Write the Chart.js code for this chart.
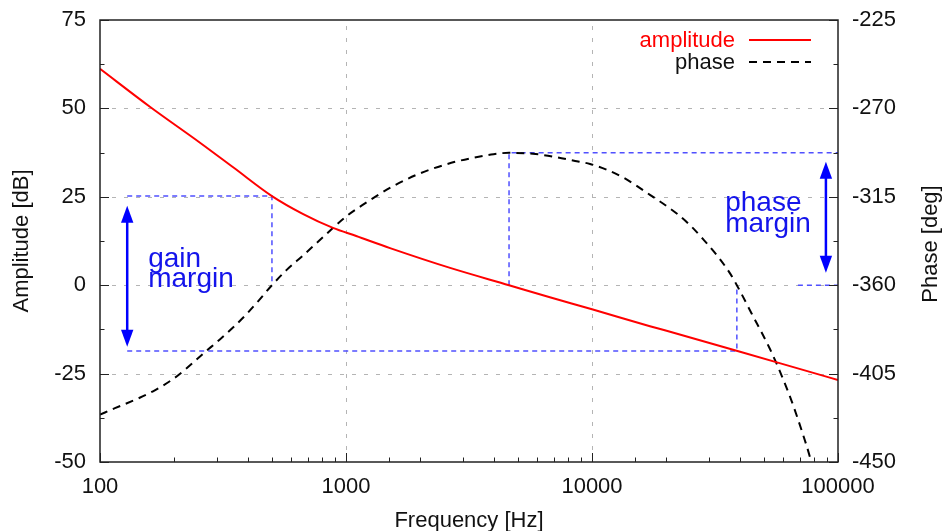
<!DOCTYPE html>
<html>
<head>
<meta charset="utf-8">
<script src="https://cdn.jsdelivr.net/npm/chart.js@4/dist/chart.umd.min.js"></script>
<style>
  html, body { margin: 0; padding: 0; background: #fff; }
  canvas { display: block; }
</style>
</head>
<body>
<canvas id="bode" width="944" height="531"></canvas>
<script>
// amplitude curve (left axis, dB)
const ampFreq = [100, 160, 255, 350, 500, 670, 885, 1100, 1510, 2650, 4600, 6740, 10000, 17200, 20100, 40000, 79400, 100000];
const ampDb = [61.2, 50.4, 40.3, 33.2, 25.2, 20.1, 16.2, 13.9, 10.5, 4.9, 0, -3.4, -6.8, -11.6, -12.9, -18.8, -24.8, -26.8];

// phase curve (right axis, deg)
const phaseFreq = [100, 115, 145, 167, 199, 225, 263, 307, 349, 395, 439, 500, 574, 670, 783, 1006, 1214, 1370, 1553, 1936, 2260, 2775, 3240, 3980, 4600, 5750, 6940, 8370, 9820, 11470, 13400, 17200, 22100, 25100, 28400, 32200, 36400, 38800, 44600, 52900, 59000, 64800, 71200, 76900, 78500];
const phaseDeg = [-425.9, -422.6, -417.3, -413.5, -407.6, -402.3, -394.8, -387.6, -381.3, -374.6, -368.2, -360, -352.2, -344.8, -337, -324.8, -317.8, -313.6, -309.6, -303.8, -300.6, -297.2, -295.3, -293.3, -292.6, -293.1, -294.5, -296.5, -298.3, -301.2, -305.2, -314.0, -323.5, -329.6, -336.8, -344.8, -354, -360, -374.5, -392.5, -406, -419, -434, -447.5, -452];

// margin guide lines
const gainTopFreq = [129, 500, 500];
const gainTopDb = [25.2, 25.2, 0];
const gainLowFreq = [129, 38800, 38800];
const gainLowDb = [-18.6, -18.6, 0];
const phasePeakFreq = [4600, 4600, 100000];
const phasePeakDeg = [-360, -292.6, -292.6];
const phaseRefFreq = [68700, 100000];
const phaseRefDeg = [-360, -360];

// arrows: x value, from, to (tips)
const gainArrow = { x: 129, from: 22.5, to: -17.4 };
const phaseArrow = { x: 89300, from: -297.2, to: -353.7 };

// axis limits
const xMin = 100, xMax = 100000;
const yMin = -50, yMax = 75, yStep = 25;
const y2Min = -450, y2Max = -225, y2Step = 45;

const FONT = '"Liberation Sans", Arial, Helvetica, sans-serif';
const BLUE_LINE = 'rgb(80, 80, 255)';

function pts(xs, ys) {
  return xs.map((v, i) => ({ x: v, y: ys[i] }));
}

function guide(data, axis) {
  return {
    label: '',
    data: data,
    yAxisID: axis,
    borderColor: BLUE_LINE,
    borderWidth: 1.5,
    borderDash: [5, 4],
    pointRadius: 0,
    tension: 0,
    order: 3,
  };
}

function drawArrow(ctx, x, yA, yB) {
  const head = 17, half = 6.2;
  ctx.strokeStyle = '#0000ff';
  ctx.fillStyle = '#0000ff';
  ctx.lineWidth = 2.5;
  ctx.setLineDash([]);
  ctx.beginPath();
  ctx.moveTo(x, yA + head - 2);
  ctx.lineTo(x, yB - head + 2);
  ctx.stroke();
  [[yA, 1], [yB, -1]].forEach(([tip, dir]) => {
    ctx.beginPath();
    ctx.moveTo(x, tip);
    ctx.lineTo(x - half, tip + dir * head);
    ctx.lineTo(x + half, tip + dir * head);
    ctx.closePath();
    ctx.fill();
  });
}

// keep the plot box where the original has it
function fixWidth(w) {
  return (s) => { s.width = w; s.paddingTop = 0; s.paddingBottom = 0; };
}

const decorations = {
  id: 'decorations',
  beforeDatasetsDraw(chart) {
    const { ctx, chartArea: a, scales: { x, y } } = chart;
    ctx.save();
    ctx.strokeStyle = '#b4b4b4';
    ctx.lineWidth = 1;
    ctx.setLineDash([4, 8]);
    x.ticks.forEach((t) => {
      const l = Math.log10(t.value);
      if (Math.abs(l - Math.round(l)) > 1e-9 || t.value <= xMin || t.value >= xMax) return;
      const px = Math.round(x.getPixelForValue(t.value)) + 0.5;
      ctx.beginPath();
      ctx.moveTo(px, a.bottom);
      ctx.lineTo(px, a.top);
      ctx.stroke();
    });
    y.ticks.forEach((t) => {
      if (t.value <= yMin || t.value >= yMax) return;
      const py = Math.round(y.getPixelForValue(t.value)) + 0.5;
      ctx.beginPath();
      ctx.moveTo(a.left, py);
      ctx.lineTo(a.right, py);
      ctx.stroke();
    });
    ctx.restore();
  },
  afterDatasetsDraw(chart) {
    const { ctx, chartArea: a, scales: { x, y, y2 } } = chart;
    ctx.save();

    // arrows
    drawArrow(ctx, x.getPixelForValue(gainArrow.x), y.getPixelForValue(gainArrow.from), y.getPixelForValue(gainArrow.to));
    drawArrow(ctx, x.getPixelForValue(phaseArrow.x), y2.getPixelForValue(phaseArrow.from), y2.getPixelForValue(phaseArrow.to));

    // margin labels
    ctx.fillStyle = 'rgb(20, 20, 235)';
    ctx.font = '28px ' + FONT;
    ctx.textAlign = 'left';
    ctx.textBaseline = 'alphabetic';
    let gx = x.getPixelForValue(157), gy = y.getPixelForValue(5.2);
    ctx.fillText('gain', gx, gy);
    ctx.fillText('margin', gx, gy + 20);
    let ph = x.getPixelForValue(34800), py = y2.getPixelForValue(-322);
    ctx.fillText('phase', ph, py);
    ctx.fillText('margin', ph, py + 21);

    // border
    ctx.strokeStyle = '#222';
    ctx.lineWidth = 1.5;
    ctx.strokeRect(a.left, a.top, a.right - a.left, a.bottom - a.top);

    // tick marks, pointing inward
    ctx.lineWidth = 1;
    x.ticks.forEach((t) => {
      const l = Math.log10(t.value);
      const major = Math.abs(l - Math.round(l)) < 1e-9;
      const px = Math.round(x.getPixelForValue(t.value)) + 0.5;
      ctx.beginPath();
      ctx.moveTo(px, a.bottom);
      ctx.lineTo(px, a.bottom - (major ? 9 : 4.5));
      ctx.stroke();
    });
    [[y, a.left, 1, yStep], [y2, a.right, -1, y2Step]].forEach(([s, edge, dir, step]) => {
      s.ticks.forEach((t) => {
        [[t.value, 9], [t.value + step / 2, 4.5]].forEach(([v, len]) => {
          if (v > s.max) return;
          const p = Math.round(s.getPixelForValue(v)) + 0.5;
          ctx.beginPath();
          ctx.moveTo(edge, p);
          ctx.lineTo(edge + dir * len, p);
          ctx.stroke();
        });
      });
    });

    // legend
    const ds = chart.data.datasets;
    ctx.font = '22px ' + FONT;
    ctx.textAlign = 'right';
    ctx.fillStyle = ds[0].borderColor;
    ctx.fillText(ds[0].label, 735, 47);
    ctx.fillStyle = '#111';
    ctx.fillText(ds[1].label, 735, 69);
    ctx.lineWidth = 2;
    ctx.strokeStyle = ds[0].borderColor;
    ctx.beginPath(); ctx.moveTo(749, 40); ctx.lineTo(811, 40); ctx.stroke();
    ctx.strokeStyle = ds[1].borderColor;
    ctx.setLineDash(ds[1].borderDash);
    ctx.beginPath(); ctx.moveTo(749, 62); ctx.lineTo(811, 62); ctx.stroke();
    ctx.setLineDash([]);

    // axis titles
    ctx.fillStyle = '#111';
    ctx.textAlign = 'center';
    ctx.fillText('Frequency [Hz]', (a.left + a.right) / 2, 527);
    ctx.save();
    ctx.translate(28, (a.top + a.bottom) / 2);
    ctx.rotate(-Math.PI / 2);
    ctx.fillText('Amplitude [dB]', 0, 0);
    ctx.restore();
    ctx.save();
    ctx.translate(937, 244);
    ctx.rotate(-Math.PI / 2);
    ctx.fillText('Phase [deg]', 0, 0);
    ctx.restore();

    ctx.restore();
  },
};

const tickFont = { family: FONT, size: 22 };

new Chart(document.getElementById('bode'), {
  type: 'line',
  data: {
    datasets: [
      {
        label: 'amplitude',
        data: pts(ampFreq, ampDb),
        yAxisID: 'y',
        borderColor: '#ff0000',
        borderWidth: 2,
        pointRadius: 0,
        cubicInterpolationMode: 'monotone',
        order: 0,
      },
      {
        label: 'phase',
        data: pts(phaseFreq, phaseDeg),
        yAxisID: 'y2',
        borderColor: '#000000',
        borderWidth: 2,
        borderDash: [8, 6],
        pointRadius: 0,
        cubicInterpolationMode: 'monotone',
        order: 1,
      },
      guide(pts(gainTopFreq, gainTopDb), 'y'),
      guide(pts(gainLowFreq, gainLowDb), 'y'),
      guide(pts(phasePeakFreq, phasePeakDeg), 'y2'),
      guide(pts(phaseRefFreq, phaseRefDeg), 'y2'),
    ],
  },
  options: {
    responsive: false,
    devicePixelRatio: 1,
    animation: false,
    layout: { padding: { top: 20, left: 0, right: 0, bottom: 0 } },
    plugins: {
      legend: { display: false },
      tooltip: { enabled: false },
    },
    scales: {
      x: {
        type: 'logarithmic',
        min: xMin,
        max: xMax,
        grid: { display: false, drawTicks: false },
        border: { display: false },
        ticks: {
          autoSkip: false,
          maxRotation: 0,
          padding: 12,
          color: '#111',
          font: tickFont,
          callback: (v) => {
            const l = Math.log10(v);
            return Math.abs(l - Math.round(l)) < 1e-9 ? String(v) : '';
          },
        },
        afterFit: (s) => { s.height = 69; },
      },
      y: {
        position: 'left',
        min: yMin,
        max: yMax,
        grid: { display: false, drawTicks: false },
        border: { display: false },
        ticks: { stepSize: yStep, padding: 14, color: '#111', font: tickFont },
        afterFit: fixWidth(100),
      },
      y2: {
        position: 'right',
        min: y2Min,
        max: y2Max,
        grid: { display: false, drawTicks: false },
        border: { display: false },
        ticks: { stepSize: y2Step, padding: 14, color: '#111', font: tickFont },
        afterFit: fixWidth(106),
      },
    },
  },
  plugins: [decorations],
});
</script>
</body>
</html>
